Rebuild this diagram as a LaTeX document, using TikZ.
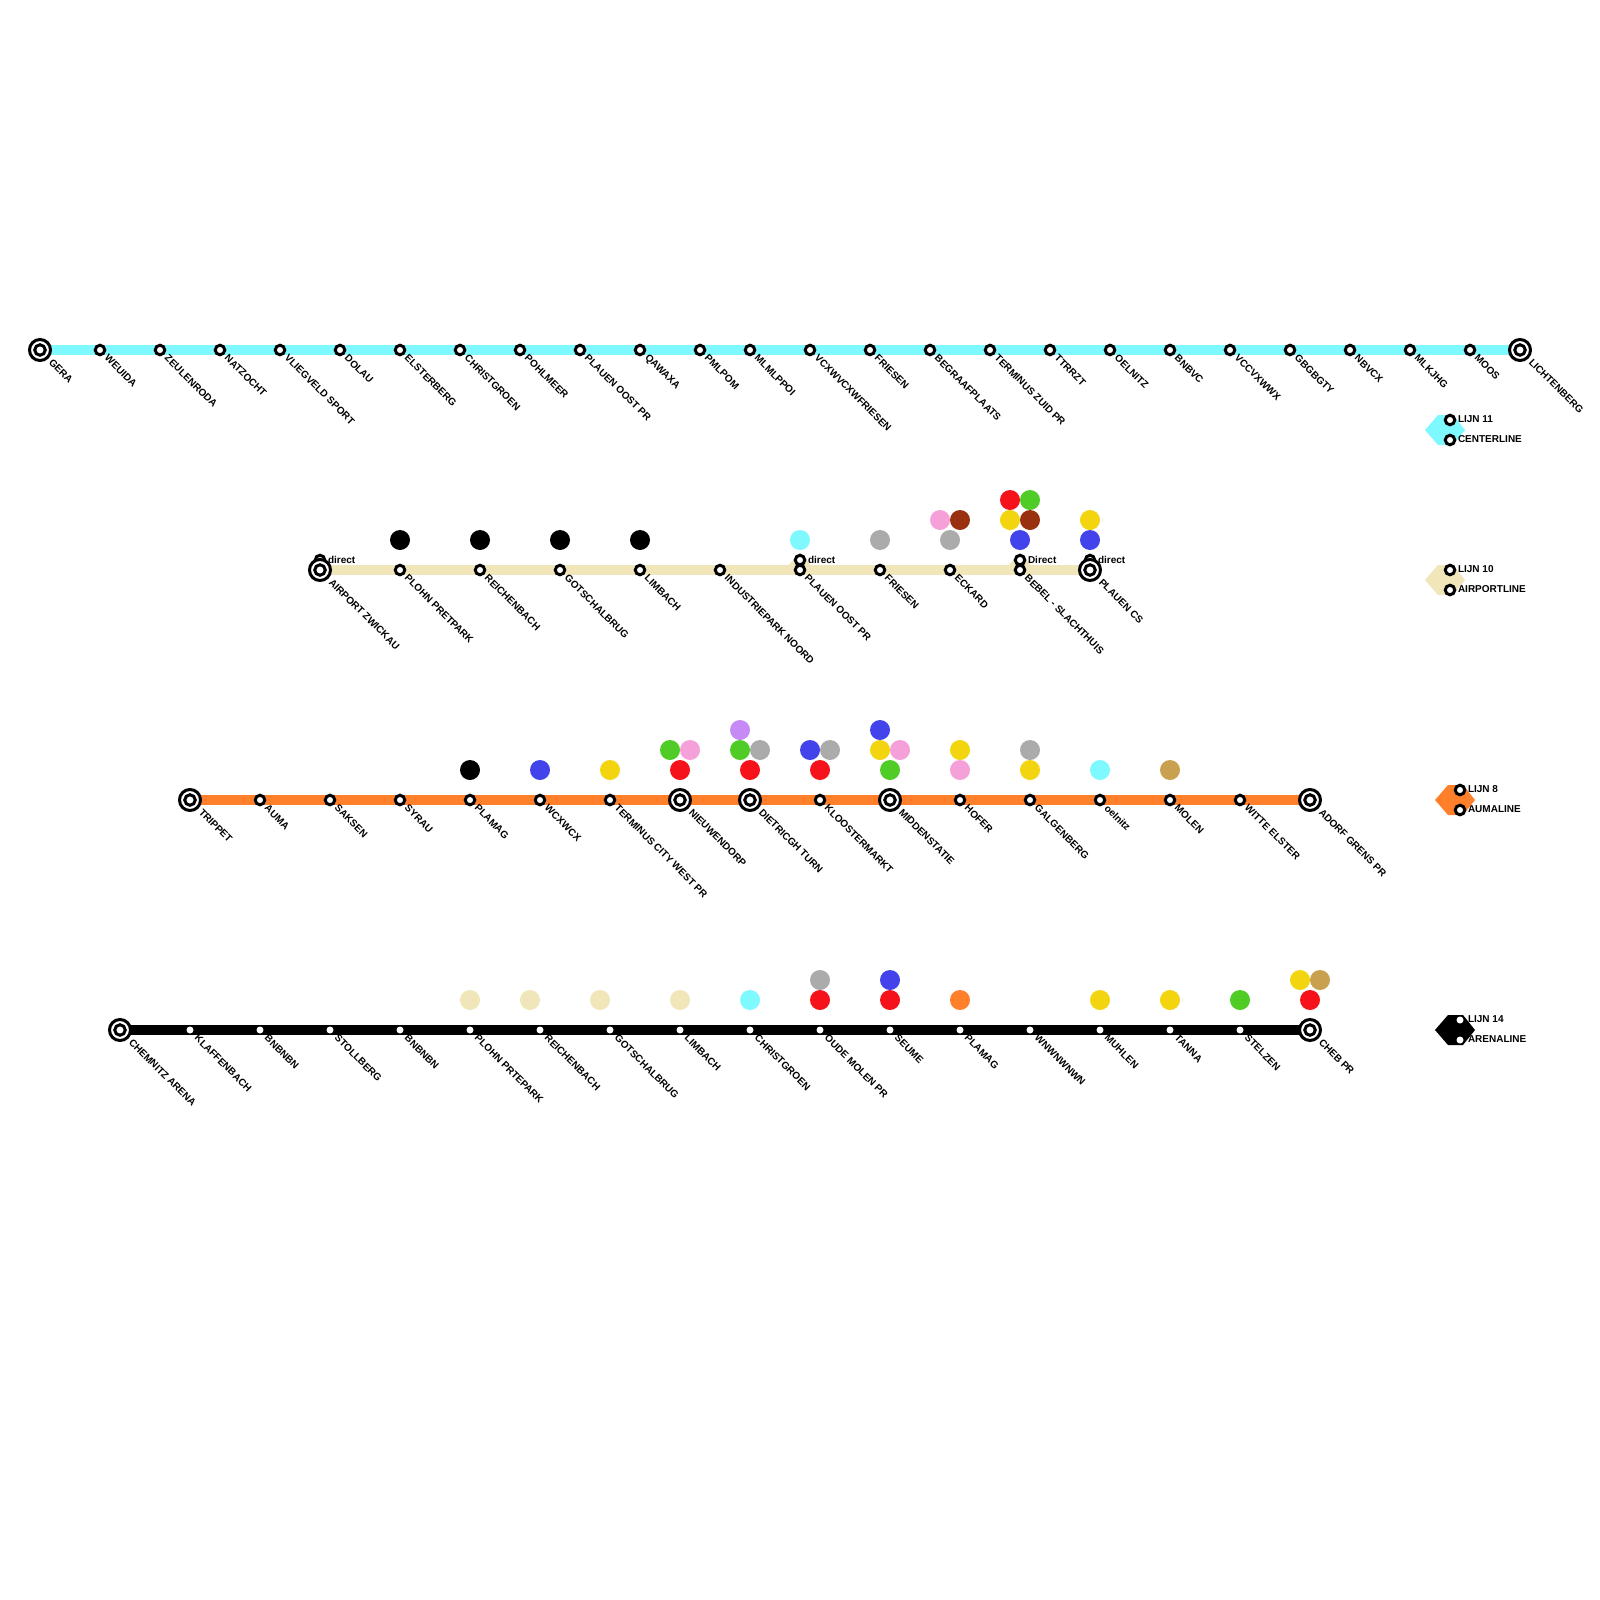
\documentclass[tikz,border=0pt]{standalone}
\usepackage{fontspec}
\setmainfont{Liberation Sans}
\definecolor{lcyan}{HTML}{7DF9FF}
\definecolor{lbeige}{HTML}{F0E6BA}
\definecolor{lorange}{HTML}{FF7F2A}
\definecolor{cred}{HTML}{F5121A}
\definecolor{cgreen}{HTML}{4FCC25}
\definecolor{cyellow}{HTML}{F2D40F}
\definecolor{cblue}{HTML}{4343EB}
\definecolor{cpink}{HTML}{F5A0D8}
\definecolor{cbrown}{HTML}{993010}
\definecolor{cgrey}{HTML}{ABABAB}
\definecolor{cpurple}{HTML}{C58AF5}
\definecolor{ctan}{HTML}{C8A050}
\tikzset{
  x=1pt,y=-1pt,
  stopm/.style={circle,draw=black,fill=white,line width=3pt,minimum size=9.5pt,inner sep=0pt,outer sep=0pt},
  wstop/.style={circle,fill=white,draw=none,minimum size=7pt,inner sep=0pt,outer sep=0pt},
  termo/.style={circle,draw=black,fill=white,line width=3pt,minimum size=21pt,inner sep=0pt,outer sep=0pt},
  termi/.style={circle,draw=black,fill=white,line width=3pt,minimum size=10.5pt,inner sep=0pt,outer sep=0pt},
  lbl/.style={font=\bfseries\fontsize{10}{11}\selectfont,text=black,rotate=-45,anchor=west,inner sep=0pt,outer sep=0pt},
  leg/.style={font=\bfseries\fontsize{10}{11}\selectfont,text=black,anchor=west,inner sep=0pt,outer sep=0pt},
  dot/.style={circle,minimum size=20pt,inner sep=0pt,outer sep=0pt,fill=#1},
  route/.style={line width=10.5pt,draw=#1},
}
\newcommand{\legshape}[3]{\fill[#1] (#2-25,#3) -- (#2-12,#3-15) -- (#2+3,#3-15) -- (#2+15,#3) -- (#2+3,#3+15) -- (#2-12,#3+15) -- cycle;}
\newcommand{\bump}[1]{\fill[lbeige] (#1-12,566) -- (#1-2,555) -- (#1+3,555) -- (#1+11,566) -- cycle;}
\begin{document}
\begin{tikzpicture}
\useasboundingbox (0,0) rectangle (1600,1600);
\fill[white] (0,0) rectangle (1600,1600);

% routes
\coordinate (A0) at (40,350);
\coordinate (A1) at (1520,350);
\draw[route=lcyan] (A0) -- (A1);
\coordinate (B0) at (320,570);
\coordinate (B1) at (1090,570);
\draw[route=lbeige] (B0) -- (B1);
\bump{800}
\bump{1020}
\coordinate (C0) at (190,800);
\coordinate (C1) at (1310,800);
\draw[route=lorange] (C0) -- (C1);
\coordinate (D0) at (120,1030);
\coordinate (D1) at (1310,1030);
\draw[route=black] (D0) -- (D1);

% legend shapes
\legshape{lcyan}{1450}{430}
\legshape{lbeige}{1450}{580}
\legshape{lorange}{1460}{800}
\legshape{black}{1460}{1030}

% coloured dots
\foreach \n/\x/\y/\c in {
 d1/400/540/black,d2/480/540/black,d3/560/540/black,d4/640/540/black,d5/800/540/lcyan,d6/880/540/cgrey,
 d7/940/520/cpink,d8/960/520/cbrown,d9/950/540/cgrey,
 d10/1010/500/cred,d11/1030/500/cgreen,d12/1010/520/cyellow,d13/1030/520/cbrown,d14/1020/540/cblue,
 d15/1090/520/cyellow,d16/1090/540/cblue,
 e1/470/770/black,e2/540/770/cblue,e3/610/770/cyellow,
 e4/680/770/cred,e5/670/750/cgreen,e6/690/750/cpink,
 e7/750/770/cred,e8/740/750/cgreen,e9/760/750/cgrey,e10/740/730/cpurple,
 e11/820/770/cred,e12/810/750/cblue,e13/830/750/cgrey,
 e14/890/770/cgreen,e15/880/750/cyellow,e16/900/750/cpink,e17/880/730/cblue,
 e18/960/770/cpink,e19/960/750/cyellow,e20/1030/770/cyellow,e21/1030/750/cgrey,
 e22/1100/770/lcyan,e23/1170/770/ctan,
 f1/470/1000/lbeige,f2/530/1000/lbeige,f3/600/1000/lbeige,f4/680/1000/lbeige,f5/750/1000/lcyan,
 f6/820/1000/cred,f7/820/980/cgrey,f8/890/1000/cred,f9/890/980/cblue,f10/960/1000/lorange,
 f11/1100/1000/cyellow,f12/1170/1000/cyellow,f13/1240/1000/cgreen,f14/1310/1000/cred,
 f15/1300/980/cyellow,f16/1320/980/ctan}
 { \node[dot=\c] (\n) at (\x,\y) {}; }

% direct markers
\foreach \n/\x in {dirA/320,dirB/800,dirC/1020,dirD/1090}
 { \node[stopm] (\n) at (\x,560) {}; }
\node[leg] (dirAt) at (328,559.5) {direct};
\node[leg] (dirBt) at (808,559.5) {direct};
\node[leg] (dirCt) at (1028,559.5) {Direct};
\node[leg] (dirDt) at (1098,559.5) {direct};

% line 1 stops
\foreach \n/\x/\t in {a1/100/WEUIDA,a2/160/ZEULENRODA,a3/220/NATZOCHT,a4/280/VLIEGVELD SPORT,a5/340/DOLAU,a6/400/ELSTERBERG,a7/460/CHRISTGROEN,a8/520/POHLMEER,a9/580/PLAUEN OOST PR,a10/640/QAWAXA,a11/700/PMLPOM,a12/750/MLMLPPOI,a13/810/VCXWVCXWFRIESEN,a14/870/FRIESEN,a15/930/BEGRAAFPLAATS,a16/990/TERMINUS ZUID PR,a17/1050/TTRRZT,a18/1110/OELNITZ,a19/1170/BNBVC,a20/1230/VCCVXWWX,a21/1290/GBGBGTY,a22/1350/NBVCX,a23/1410/MLKJHG,a24/1470/MOOS}
 { \node[stopm] (\n) at (\x,350) {}; \node[lbl] (\n t) at ([shift={(6.5,6.5)}]\n.center) {\t}; }
% line 2 stops
\foreach \n/\x/\t in {b1/400/PLOHN PRETPARK,b2/480/REICHENBACH,b3/560/GOTSCHALBRUG,b4/640/LIMBACH,b5/720/INDUSTRIEPARK NOORD,b6/800/PLAUEN OOST PR,b7/880/FRIESEN,b8/950/ECKARD,b9/1020/BEBEL - SLACHTHUIS}
 { \node[stopm] (\n) at (\x,570) {}; \node[lbl] (\n t) at ([shift={(6.5,6.5)}]\n.center) {\t}; }
% line 3 stops
\foreach \n/\x/\t in {c1/260/AUMA,c2/330/SAKSEN,c3/400/SYRAU,c4/470/PLAMAG,c5/540/WCXWCX,c6/610/TERMINUS CITY WEST PR,c7/820/KLOOSTERMARKT,c8/960/HOFER,c9/1030/GALGENBERG,c10/1100/oelnitz,c11/1170/MOLEN,c12/1240/WITTE ELSTER}
 { \node[stopm] (\n) at (\x,800) {}; \node[lbl] (\n t) at ([shift={(6.5,6.5)}]\n.center) {\t}; }
% line 4 stops
\foreach \n/\x/\t in {g1/190/KLAFFENBACH,g2/260/BNBNBN,g3/330/STOLLBERG,g4/400/BNBNBN,g5/470/PLOHN PRTEPARK,g6/540/REICHENBACH,g7/610/GOTSCHALBRUG,g8/680/LIMBACH,g9/750/CHRISTGROEN,g10/820/OUDE MOLEN PR,g11/890/SEUME,g12/960/PLAMAG,g13/1030/WNWNWNWN,g14/1100/MUHLEN,g15/1170/TANNA,g16/1240/STELZEN}
 { \node[wstop] (\n) at (\x,1030) {}; \node[lbl] (\n t) at ([shift={(6.5,6.5)}]\n.center) {\t}; }

% terminals
\foreach \n/\x/\y/\t in {ta/40/350/GERA,tb/1520/350/LICHTENBERG,tc/320/570/AIRPORT ZWICKAU,td/1090/570/PLAUEN CS,te/190/800/TRIPPET,tf/680/800/NIEUWENDORP,tg/750/800/DIETRICGH TURN,th/890/800/MIDDENSTATIE,ti/1310/800/ADORF GRENS PR,tj/120/1030/CHEMNITZ ARENA,tk/1310/1030/CHEB PR}
 { \node[termo] (\n) at (\x,\y) {}; \node[termi] (\n i) at (\x,\y) {}; \node[lbl] (\n t) at ([shift={(10.7,10.7)}]\n.center) {\t}; }

% legend
\foreach \n/\x/\a/\b/\ta/\tb/\s in {la/1450/420/440/LIJN 11/CENTERLINE/stopm,lb/1450/570/590/LIJN 10/AIRPORTLINE/stopm,lc/1460/790/810/LIJN 8/AUMALINE/stopm,ld/1460/1020/1040/LIJN 14/ARENALINE/wstop}
 { \node[\s] (\n1) at (\x,\a) {}; \node[\s] (\n2) at (\x,\b) {};
   \node[leg] (\n1t) at (\x+8,\a-1) {\ta}; \node[leg] (\n2t) at (\x+8,\b-1) {\tb}; }
\end{tikzpicture}
\end{document}
